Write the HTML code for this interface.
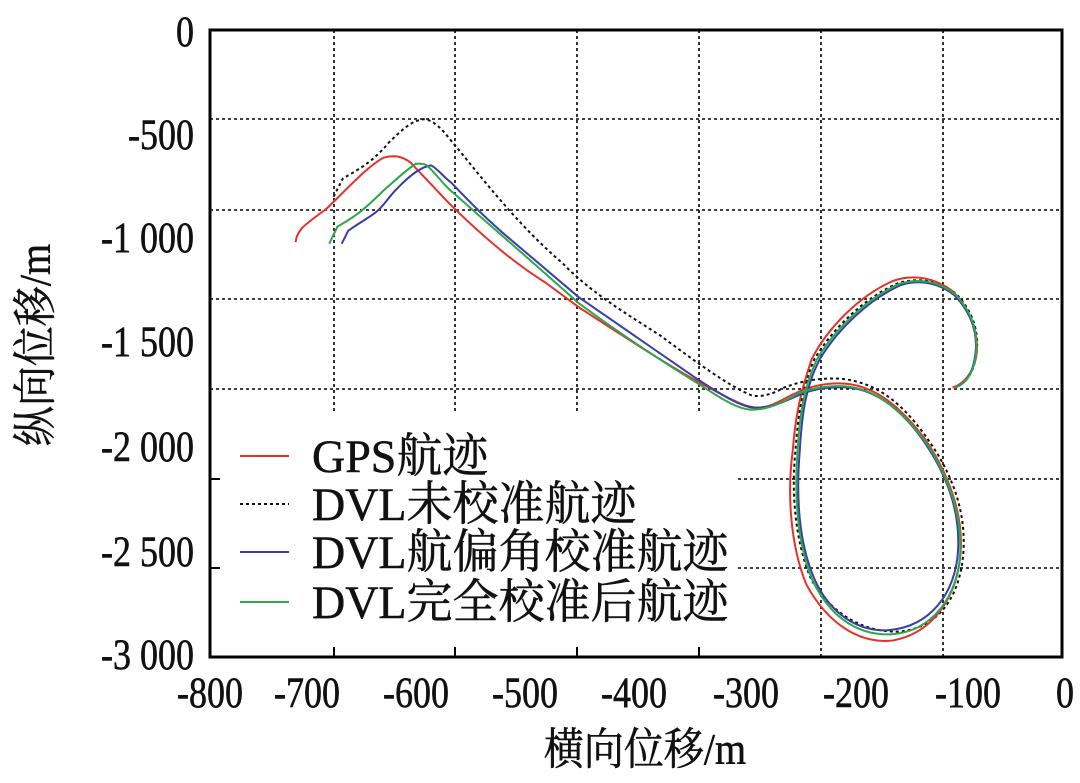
<!DOCTYPE html>
<html><head><meta charset="utf-8"><style>
html,body{margin:0;padding:0;background:#fff;}
svg{display:block;}
text{font-family:"Liberation Serif","Noto Serif CJK SC","Noto Sans CJK SC",serif;fill:#111;stroke:#111;stroke-width:0.5;}
</style></head><body>
<svg width="1080" height="783" viewBox="0 0 1080 783" xmlns="http://www.w3.org/2000/svg">
<rect width="1080" height="783" fill="#fff"/>
<g stroke="#000" stroke-width="1.6" stroke-dasharray="3,3" fill="none">
<line x1="334" y1="30" x2="334" y2="413"/>
<line x1="455" y1="30" x2="455" y2="413"/>
<line x1="577" y1="30" x2="577" y2="413"/>
<line x1="699" y1="30" x2="699" y2="413"/>
<line x1="821" y1="30" x2="821" y2="657"/>
<line x1="943" y1="30" x2="943" y2="657"/>
<line x1="210" y1="119" x2="1062" y2="119"/>
<line x1="210" y1="210" x2="1062" y2="210"/>
<line x1="210" y1="299" x2="1062" y2="299"/>
<line x1="210" y1="389" x2="1062" y2="389"/>
<line x1="738" y1="479" x2="1062" y2="479"/>
<line x1="738" y1="568" x2="1062" y2="568"/>
</g>
<g stroke="#000" stroke-width="2">
<line x1="334" y1="657" x2="334" y2="647"/><line x1="455" y1="657" x2="455" y2="647"/>
<line x1="577" y1="657" x2="577" y2="647"/><line x1="699" y1="657" x2="699" y2="647"/>
<line x1="210" y1="479" x2="220" y2="479"/><line x1="210" y1="568" x2="220" y2="568"/>
</g>
<rect x="210" y="30" width="852" height="627" fill="none" stroke="#000" stroke-width="3"/>
<g transform="translate(210,30) scale(0.542,0.4016)" fill="none" stroke-width="2" stroke-linejoin="round">
<path vector-effect="non-scaling-stroke" stroke="#111" stroke-dasharray="3,3" d="M228,415 L245,370 C270,350 300,330 330,280 C350,255 370,225 395,222 C420,225 440,270 460,300 C520,400 580,500 650,580 C700,650 760,700 830,760 C890,820 960,890 1000,910 C1020,915 1040,905 1060,890 C1090,875 1120,866 1160,868 C1230,875 1280,930 1330,1030 C1370,1110 1395,1200 1390,1300 C1385,1400 1350,1490 1270,1498 C1210,1500 1150,1460 1110,1370 C1080,1280 1072,1150 1080,1050 C1085,960 1092,890 1115,820 C1150,740 1210,665 1270,630 C1310,615 1345,625 1375,655 C1405,695 1418,745 1415,795 C1412,845 1398,880 1375,888"/>
<path vector-effect="non-scaling-stroke" stroke="#e8302a" d="M158,528 C160,500 175,485 195,465 L215,445 C250,400 290,340 320,318 C340,310 355,315 370,330 L440,430 C500,510 560,580 620,630 L680,690 C760,760 850,840 920,890 C960,920 990,940 1010,940 C1040,940 1060,915 1080,905 C1100,890 1130,880 1160,880 C1220,880 1270,930 1320,1020 C1360,1100 1390,1200 1385,1300 C1380,1400 1340,1500 1260,1520 C1200,1530 1140,1480 1100,1380 C1070,1280 1065,1150 1075,1050 C1080,960 1090,900 1110,820 C1140,740 1200,660 1260,625 C1300,605 1340,620 1370,650 C1400,690 1415,740 1415,790 C1415,840 1395,880 1370,890"/>
<path vector-effect="non-scaling-stroke" stroke="#3a3ea8" d="M243,532 L255,500 C270,485 290,470 305,455 C320,440 330,415 345,395 C370,360 390,340 408,337 C420,345 430,365 445,380 C480,430 510,470 540,505 L680,665 C760,740 840,815 900,870 C940,905 975,935 1000,940 C1030,945 1060,925 1085,910 C1110,895 1140,888 1175,890 C1230,895 1280,950 1320,1030 C1360,1110 1385,1200 1380,1300 C1375,1400 1330,1490 1245,1495 C1185,1495 1135,1440 1110,1350 C1085,1260 1082,1150 1088,1050 C1092,960 1098,890 1125,820 C1160,740 1220,668 1275,635 C1310,620 1345,630 1373,660 C1402,700 1415,745 1413,795 C1410,845 1398,880 1375,890"/>
<path vector-effect="non-scaling-stroke" stroke="#2aa84a" d="M220,532 L235,490 C250,478 260,470 270,460 C290,440 305,420 320,400 C345,370 365,345 380,333 C390,332 395,333 400,337 C415,355 425,375 440,395 L520,490 C580,560 630,620 680,680 C760,760 840,830 900,880 C940,915 970,942 995,945 C1025,948 1055,930 1085,905 C1110,892 1140,885 1170,887 C1230,892 1280,950 1325,1035 C1362,1115 1388,1205 1384,1305 C1380,1405 1335,1500 1255,1505 C1190,1507 1140,1455 1110,1365 C1083,1275 1078,1150 1084,1050 C1088,960 1095,890 1120,820 C1155,740 1215,666 1272,632 C1310,617 1345,627 1374,657 C1403,697 1416,745 1414,795 C1412,845 1398,880 1375,890"/>
</g>
<line x1="240" y1="456" x2="289" y2="456" stroke="#e8302a" stroke-width="2"/>
<line x1="240" y1="504" x2="289" y2="504" stroke="#111" stroke-width="2" stroke-dasharray="3,3"/>
<line x1="240" y1="552" x2="289" y2="552" stroke="#3a3ea8" stroke-width="2"/>
<line x1="240" y1="602" x2="289" y2="602" stroke="#2aa84a" stroke-width="2"/>
<g font-size="46">
<text transform="translate(312,472) scale(1,1.02)">GPS航迹</text>
<text transform="translate(312,520) scale(1,1.02)">DVL未校准航迹</text>
<text transform="translate(312,568) scale(1,1.02)">DVL航偏角校准航迹</text>
<text transform="translate(312,618) scale(1,1.02)">DVL完全校准后航迹</text>
</g>
<g font-size="36" text-anchor="end">
<text transform="translate(194,46) scale(1,1.2)">0</text>
<text transform="translate(194,149) scale(1,1.2)">-500</text>
<text transform="translate(194,252) scale(1,1.2)">-1 000</text>
<text transform="translate(194,356) scale(1,1.2)">-1 500</text>
<text transform="translate(194,461) scale(1,1.2)">-2 000</text>
<text transform="translate(194,566) scale(1,1.2)">-2 500</text>
<text transform="translate(194,669) scale(1,1.2)">-3 000</text>
</g>
<g font-size="36" text-anchor="middle">
<text transform="translate(210,707) scale(1,1.2)">-800</text>
<text transform="translate(307,707) scale(1,1.2)">-700</text>
<text transform="translate(416,707) scale(1,1.2)">-600</text>
<text transform="translate(525,707) scale(1,1.2)">-500</text>
<text transform="translate(634,707) scale(1,1.2)">-400</text>
<text transform="translate(746,707) scale(1,1.2)">-300</text>
<text transform="translate(856,707) scale(1,1.2)">-200</text>
<text transform="translate(968,707) scale(1,1.2)">-100</text>
<text transform="translate(1065,707) scale(1,1.2)">0</text>
</g>
<text transform="translate(645,764) scale(1,1.1)" font-size="40" text-anchor="middle">横向位移/m</text>
<text transform="translate(50,345) rotate(-90) scale(1,1.1)" font-size="40" text-anchor="middle">纵向位移/m</text>
</svg>
</body></html>
